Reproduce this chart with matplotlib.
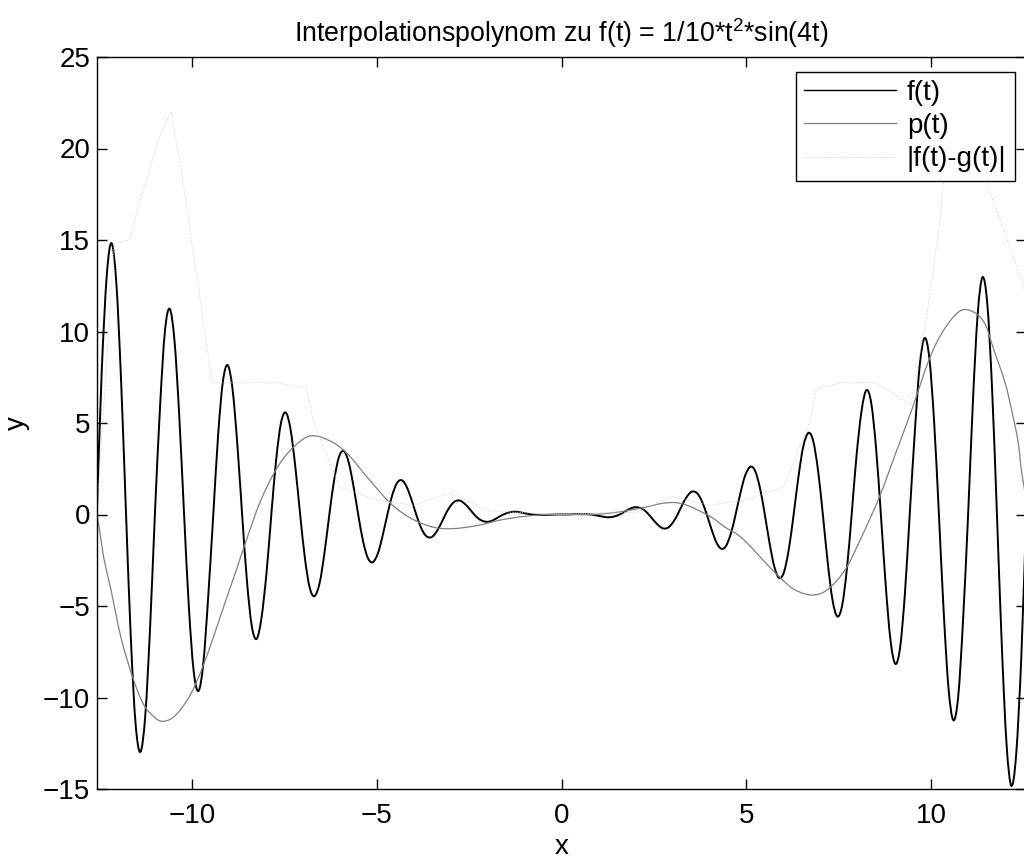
import matplotlib
matplotlib.use('Agg')
import matplotlib.pyplot as plt
from matplotlib.path import Path
from matplotlib.patches import PathPatch
from matplotlib.lines import Line2D

plt.rcParams['font.family'] = ['Liberation Sans', 'DejaVu Sans']
plt.rcParams['mathtext.fontset'] = 'custom'
plt.rcParams['mathtext.rm'] = 'Liberation Sans'

# f(t) sampled along x
f_x = [-12.57, -12.44, -12.30, -12.17, -12.04, -11.91, -11.78, -11.65, -11.52, -11.39, -11.26, -11.13,
       -11.00, -10.86, -10.73, -10.60, -10.47, -10.34, -10.21, -10.08, -9.95, -9.82, -9.69, -9.56,
       -9.42, -9.29, -9.16, -9.03, -8.90, -8.77, -8.64, -8.51, -8.38, -8.25, -8.12, -7.98,
       -7.85, -7.72, -7.59, -7.46, -7.33, -7.20, -7.07, -6.94, -6.81, -6.68, -6.54, -6.41,
       -6.28, -6.15, -6.02, -5.89, -5.76, -5.63, -5.50, -5.37, -5.24, -5.11, -4.97, -4.84,
       -4.71, -4.58, -4.45, -4.32, -4.19, -4.06, -3.93, -3.80, -3.67, -3.53, -3.40, -3.27,
       -3.14, -3.01, -2.88, -2.75, -2.62, -2.49, -2.36, -2.23, -2.09, -1.96, -1.83, -1.70,
       -1.57, -1.44, -1.31, -1.18, -1.05, -0.92, -0.79, -0.65, -0.52, -0.39, -0.26, -0.13,
       0.00,
       0.13, 0.26, 0.39, 0.52, 0.65, 0.79, 0.92, 1.05, 1.18, 1.31, 1.44, 1.57,
       1.70, 1.83, 1.96, 2.09, 2.23, 2.36, 2.49, 2.62, 2.75, 2.88, 3.01, 3.14,
       3.27, 3.40, 3.53, 3.67, 3.80, 3.93, 4.06, 4.19, 4.32, 4.45, 4.58, 4.71,
       4.84, 4.97, 5.11, 5.24, 5.37, 5.50, 5.63, 5.76, 5.89, 6.02, 6.15, 6.28,
       6.41, 6.54, 6.68, 6.81, 6.94, 7.07, 7.20, 7.33, 7.46, 7.59, 7.72, 7.85,
       7.98, 8.12, 8.25, 8.38, 8.51, 8.64, 8.77, 8.90, 9.03, 9.16, 9.29, 9.42,
       9.56, 9.69, 9.82, 9.95, 10.08, 10.21, 10.34, 10.47, 10.60, 10.73, 10.86, 11.00,
       11.13, 11.26, 11.39, 11.52, 11.65, 11.78, 11.91, 12.04, 12.17, 12.30, 12.44, 12.57]

f_y = [0.00, 7.73, 13.11, 14.82, 12.56, 7.09, 0.00, -6.79, -11.49, -12.97, -10.98, -6.19,
       0.00, 5.90, 9.98, 11.24, 9.50, 5.35, 0.00, -5.08, -8.57, -9.64, -8.13, -4.57,
       0.00, 4.32, 7.27, 8.16, 6.86, 3.85, 0.00, -3.62, -6.08, -6.80, -5.70, -3.19,
       0.00, 2.98, 4.99, 5.57, 4.65, 2.59, 0.00, -2.41, -4.01, -4.46, -3.71, -2.06,
       0.00, 1.89, 3.14, 3.47, 2.87, 1.58, 0.00, -1.44, -2.37, -2.61, -2.14, -1.17,
       0.00, 1.05, 1.72, 1.87, 1.52, 0.82, 0.00, -0.72, -1.16, -1.25, -1.00, -0.54,
       0.00, 0.45, 0.72, 0.76, 0.59, 0.31, 0.00, -0.25, -0.38, -0.39, -0.29, -0.14,
       0.00, 0.10, 0.15, 0.14, 0.09, 0.04, 0.00, -0.02, -0.02, -0.02, -0.01, 0.00,
       0.00,
       0.00, 0.01, 0.02, 0.02, 0.02, 0.00, -0.04, -0.09, -0.14, -0.15, -0.10, 0.00,
       0.14, 0.29, 0.39, 0.38, 0.25, 0.00, -0.31, -0.59, -0.76, -0.72, -0.45, 0.00,
       0.54, 1.00, 1.25, 1.16, 0.72, 0.00, -0.82, -1.52, -1.87, -1.72, -1.05, 0.00,
       1.17, 2.14, 2.61, 2.37, 1.44, 0.00, -1.58, -2.87, -3.47, -3.14, -1.89, 0.00,
       2.06, 3.71, 4.46, 4.01, 2.41, 0.00, -2.59, -4.65, -5.57, -4.99, -2.98, 0.00,
       3.19, 5.70, 6.80, 6.08, 3.62, 0.00, -3.85, -6.86, -8.16, -7.27, -4.32, 0.00,
       4.57, 8.13, 9.64, 8.57, 5.08, 0.00, -5.35, -9.50, -11.24, -9.98, -5.90, 0.00,
       6.19, 10.98, 12.97, 11.49, 6.79, 0.00, -7.09, -12.56, -14.82, -13.11, -7.73, 0.00]

# interpolation polynomial p(t)
p_x = [-12.57, -12.5, -12.38, -12.19, -11.92, -11.6, -11.3, -11.0, -10.8, -10.55, -10.3,
       -10.0, -9.7, -9.4, -9.1, -8.8, -8.5, -8.14, -7.68, -7.24, -6.78, -6.24, -5.78,
       -5.24, -4.62, -4.08, -3.46, -2.92, -2.27, -1.65, -1.0, -0.4, 0.4, 1.0, 1.6,
       2.27, 2.7, 3.08, 3.4, 3.73, 4.1, 4.43, 4.8, 5.16, 5.5, 5.89, 6.3, 6.78, 7.2,
       7.68, 8.1, 8.59, 9.05, 9.49, 9.84, 10.1, 10.38, 10.65, 10.89, 11.2, 11.46,
       11.68, 12.0, 12.2, 12.35, 12.45, 12.57]
p_y = [0.0, -0.8, -2.4, -4.1, -6.7, -8.9, -10.4, -11.1, -11.3, -11.15, -10.65,
       -9.7, -8.3, -6.6, -4.8, -3.05, -1.25, 0.75, 2.6, 3.7, 4.3, 4.0, 3.3,
       2.0, 0.6, -0.2, -0.7, -0.77, -0.6, -0.3, -0.1, 0.0, 0.0, 0.02, 0.15,
       0.4, 0.6, 0.65, 0.5, 0.2, -0.2, -0.7, -1.15, -1.85, -2.6, -3.4, -4.1, -4.4, -4.1,
       -3.0, -1.3, 0.9, 3.4, 5.8, 7.9, 9.2, 10.2, 10.9, 11.2, 11.0, 10.4,
       9.1, 7.2, 5.5, 4.0, 2.3, 0.9]

# error curve |f(t)-g(t)|, faint in the print
e_x = [-12.57, -12.1, -11.7, -11.38, -10.9, -10.57, -10.3, -9.8, -9.45, -8.6, -7.7,
       -6.9, -6.7, -6.0, -5.0, -4.0, -3.0, -2.0, -1.0, 0.0, 1.0, 2.0, 3.0, 4.0,
       5.0, 6.0, 6.73, 6.9, 7.6, 8.5, 9.45, 9.9, 10.24, 10.5, 11.1, 11.5, 12.05, 12.57]
e_y = [0.0, 14.8, 15.0, 17.3, 20.5, 22.0, 19.0, 12.1, 7.2, 7.2, 7.2,
       6.9, 5.0, 1.5, 0.8, 0.5, 1.2, 0.2, 0.1, 0.0, 0.1, 0.1, 1.0, 0.5,
       0.8, 1.5, 5.1, 6.9, 7.2, 7.2, 6.0, 11.1, 16.1, 21.8, 20.0, 18.1, 15.1, 12.0]

x_ticks = [-10, -5, 0, 5, 10]
y_ticks = [-15, -10, -5, 0, 5, 10, 15, 20, 25]


def smooth_path(xs, ys):
    # cubic Bezier segments through the samples (Catmull-Rom tangents)
    n = len(xs)
    verts = [(xs[0], ys[0])]
    codes = [Path.MOVETO]
    for i in range(n - 1):
        i0 = max(i - 1, 0)
        i3 = min(i + 2, n - 1)
        c1 = (xs[i] + (xs[i + 1] - xs[i0]) / 6, ys[i] + (ys[i + 1] - ys[i0]) / 6)
        c2 = (xs[i + 1] - (xs[i3] - xs[i]) / 6, ys[i + 1] - (ys[i3] - ys[i]) / 6)
        verts += [c1, c2, (xs[i + 1], ys[i + 1])]
        codes += [Path.CURVE4] * 3
    return Path(verts, codes)


fig = plt.figure(figsize=(10.24, 8.61), dpi=100)
ax = fig.add_axes([97 / 1024, 1 - 789 / 861, 929 / 1024, 732 / 861])

f_color, f_lw = 'black', 1.4
p_color, p_lw = '0.5', 0.9
e_color, e_lw, e_ls = '0.82', 0.7, (0, (1, 1.5))

ax.add_patch(PathPatch(smooth_path(f_x, f_y), fill=False, edgecolor=f_color, lw=f_lw))
ax.add_patch(PathPatch(smooth_path(p_x, p_y), fill=False, edgecolor=p_color, lw=p_lw))
ax.plot(e_x, e_y, color=e_color, lw=e_lw, ls=e_ls)

ax.set_xlim(-12.566, 12.566)
ax.set_ylim(-15, 25)
ax.set_xticks(x_ticks)
ax.set_yticks(y_ticks)
ax.tick_params(direction='in', length=7, width=1, labelsize=20,
               top=True, right=True)
ax.tick_params(axis='x', pad=10)
ax.tick_params(axis='y', pad=5)
for s in ax.spines.values():
    s.set_linewidth(1.0)

ax.set_xlabel('x', fontsize=20, labelpad=4)
ax.set_ylabel('y', fontsize=20, labelpad=9)
ax.set_title(r'Interpolationspolynom zu f(t) = 1/10*t$^{2}$*sin(4t)', fontsize=19.3, pad=11)

handles = [Line2D([], [], color=f_color, lw=1.0),
           Line2D([], [], color=p_color, lw=p_lw),
           Line2D([], [], color=e_color, lw=e_lw, ls=e_ls)]
labels = ['f(t)', 'p(t)', '|f(t)-g(t)|']
leg = ax.legend(handles, labels, loc='upper right', bbox_to_anchor=(0.988, 0.98),
                borderaxespad=0, fontsize=20, handlelength=3.3, handletextpad=0.4,
                labelspacing=0.26, borderpad=0.3, fancybox=False, framealpha=1,
                edgecolor='black')
leg.get_frame().set_linewidth(1.0)

fig.savefig('out.png', dpi=100)
